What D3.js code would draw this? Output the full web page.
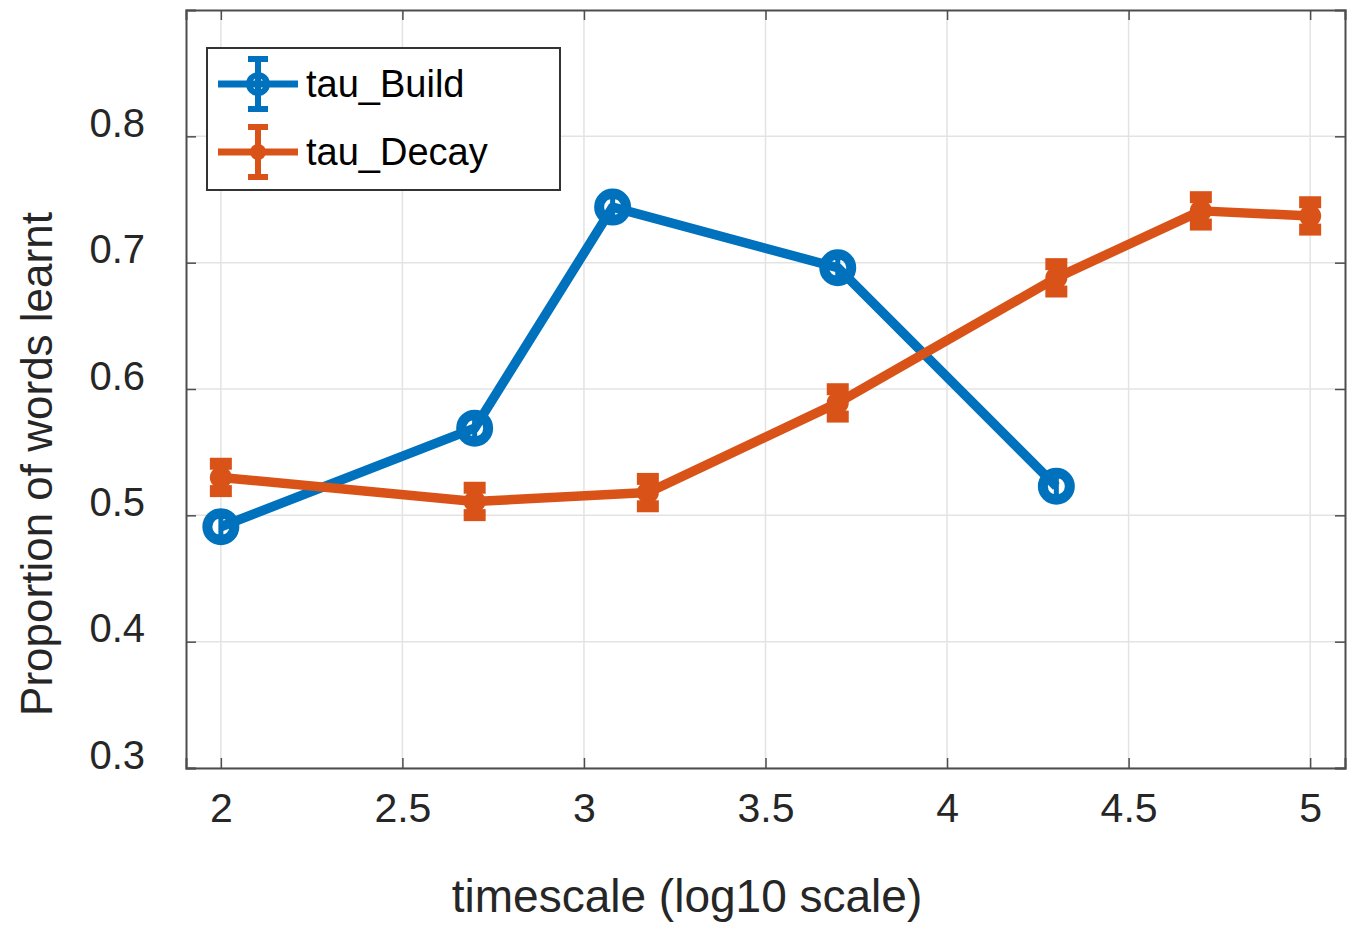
<!DOCTYPE html>
<html><head><meta charset="utf-8">
<script src="https://cdn.jsdelivr.net/npm/d3@7"></script>
<style>body{margin:0;background:#fff;} text{font-family:Arial,"Liberation Sans",sans-serif;}</style>
</head><body>
<svg id="c" width="1355" height="927"></svg>
<script>
const xTicks = [2, 2.5, 3, 3.5, 4, 4.5, 5];
const yTicks = [0.3, 0.4, 0.5, 0.6, 0.7, 0.8];
const buildX = [2, 2.699, 3.079, 3.699, 4.301];
const buildY = [0.491, 0.569, 0.744, 0.696, 0.523];
const buildErr = [0.008, 0.008, 0.008, 0.008, 0.008];
const decayX = [2, 2.699, 3.176, 3.699, 4.301, 4.699, 5];
const decayY = [0.530, 0.511, 0.518, 0.589, 0.688, 0.741, 0.737];
const decayErr = [0.014, 0.014, 0.014, 0.014, 0.014, 0.014, 0.014];
const seriesNames = ["tau_Build", "tau_Decay"];

const svg = d3.select("#c");
const L = 186, R = 1345, T = 10, B = 768;
const x = d3.scaleLinear().domain([1.904, 5.096]).range([L, R]);
const y = d3.scaleLinear().domain([0.3, 0.9]).range([B, T]);
const blue = "#0072BD", orange = "#D95319";

// grid
svg.append("g").selectAll("line").data(xTicks).join("line")
  .attr("x1", d => x(d)).attr("x2", d => x(d)).attr("y1", T).attr("y2", B)
  .attr("stroke", "#e3e3e3").attr("stroke-width", 1.5);
svg.append("g").selectAll("line").data(yTicks).join("line")
  .attr("x1", L).attr("x2", R).attr("y1", d => y(d)).attr("y2", d => y(d))
  .attr("stroke", "#e3e3e3").attr("stroke-width", 1.5);

// axes
const ax = d3.axisBottom(x).tickValues(xTicks).tickSize(-10).tickPadding(25).tickFormat(d3.format("~g"));
const gx = svg.append("g").attr("transform", `translate(0,${B})`).call(ax);
const ay = d3.axisLeft(y).tickValues(yTicks).tickSize(-10).tickPadding(41).tickFormat(d3.format("~g"));
const gy = svg.append("g").attr("transform", `translate(${L},0)`).call(ay);
const axTop = d3.axisTop(x).tickValues(xTicks).tickSize(-10).tickFormat("");
svg.append("g").attr("transform", `translate(0,${T})`).call(axTop);
const ayR = d3.axisRight(y).tickValues(yTicks).tickSize(-10).tickFormat("");
svg.append("g").attr("transform", `translate(${R},0)`).call(ayR);
svg.selectAll(".domain").attr("stroke", "#4d4d4d").attr("stroke-width", 2);
svg.selectAll(".tick line").attr("stroke", "#4d4d4d").attr("stroke-width", 1.5);
gx.selectAll("text").attr("font-size", 41).attr("fill", "#262626").attr("dy", "0.71em");
gy.selectAll("text").attr("font-size", 40).attr("fill", "#262626").attr("dy", "0");

// labels
svg.append("text").attr("x", 687).attr("y", 912).attr("text-anchor", "middle")
  .attr("font-size", 46).attr("fill", "#262626").text("timescale (log10 scale)");
svg.append("text").attr("transform", "translate(52,464) rotate(-90)").attr("text-anchor", "middle")
  .attr("font-size", 44).attr("fill", "#262626").text("Proportion of words learnt");

const line = d3.line().x(d => x(d[0])).y(d => y(d[1]));

function drawSeries(xs, ys, es, color, marker) {
  const pts = xs.map((v, i) => [v, ys[i], es[i]]);
  const g = svg.append("g");
  g.append("path").datum(pts).attr("d", line).attr("fill", "none")
    .attr("stroke", color).attr("stroke-width", 9.5).attr("stroke-linejoin", "round");
  const eb = g.selectAll("g.eb").data(pts).join("g");
  const isO = marker === "o";
  eb.append("line").attr("x1", d => x(d[0])).attr("x2", d => x(d[0]))
    .attr("y1", d => y(d[1] - d[2])).attr("y2", d => y(d[1] + d[2]))
    .attr("stroke", color).attr("stroke-width", isO ? 5 : 9);
  [1, -1].forEach(s => {
    eb.append("line").attr("x1", d => x(d[0]) - (isO ? 9 : 11)).attr("x2", d => x(d[0]) + (isO ? 9 : 11))
      .attr("y1", d => y(d[1] + s * d[2]) + s * (isO ? 0 : 4)).attr("y2", d => y(d[1] + s * d[2]) + s * (isO ? 0 : 4))
      .attr("stroke", color).attr("stroke-width", isO ? 5 : 12);
  });
  if (isO) {
    eb.append("circle").attr("cx", d => x(d[0])).attr("cy", d => y(d[1])).attr("r", 13.5)
      .attr("fill", "none").attr("stroke", color).attr("stroke-width", 10);
  } else {
    eb.append("circle").attr("cx", d => x(d[0])).attr("cy", d => y(d[1])).attr("r", 11)
      .attr("fill", color);
  }
}
drawSeries(buildX, buildY, buildErr, blue, "o");
drawSeries(decayX, decayY, decayErr, orange, ".");

// legend
const lg = svg.append("g");
lg.append("rect").attr("x", 207).attr("y", 48).attr("width", 353).attr("height", 142)
  .attr("fill", "#fff").attr("stroke", "#333").attr("stroke-width", 2);
const colors = [blue, orange];
seriesNames.forEach((n, i) => {
  const cy = 84 + i * 68;
  const c = colors[i];
  lg.append("line").attr("x1", 218).attr("x2", 298).attr("y1", cy).attr("y2", cy).attr("stroke", c).attr("stroke-width", 7);
  lg.append("line").attr("x1", 258).attr("x2", 258).attr("y1", cy - 25).attr("y2", cy + 25).attr("stroke", c).attr("stroke-width", 6);
  [-1, 1].forEach(s => lg.append("line").attr("x1", 248).attr("x2", 268).attr("y1", cy + s * 25).attr("y2", cy + s * 25).attr("stroke", c).attr("stroke-width", 6));
  if (i === 0) lg.append("circle").attr("cx", 258).attr("cy", cy).attr("r", 9).attr("fill", "none").attr("stroke", c).attr("stroke-width", 6);
  else lg.append("circle").attr("cx", 258).attr("cy", cy).attr("r", 8).attr("fill", c);
  lg.append("text").attr("x", 306).attr("y", cy + 13).attr("font-size", 38).attr("fill", "#000").text(n);
});
</script>
</body></html>
